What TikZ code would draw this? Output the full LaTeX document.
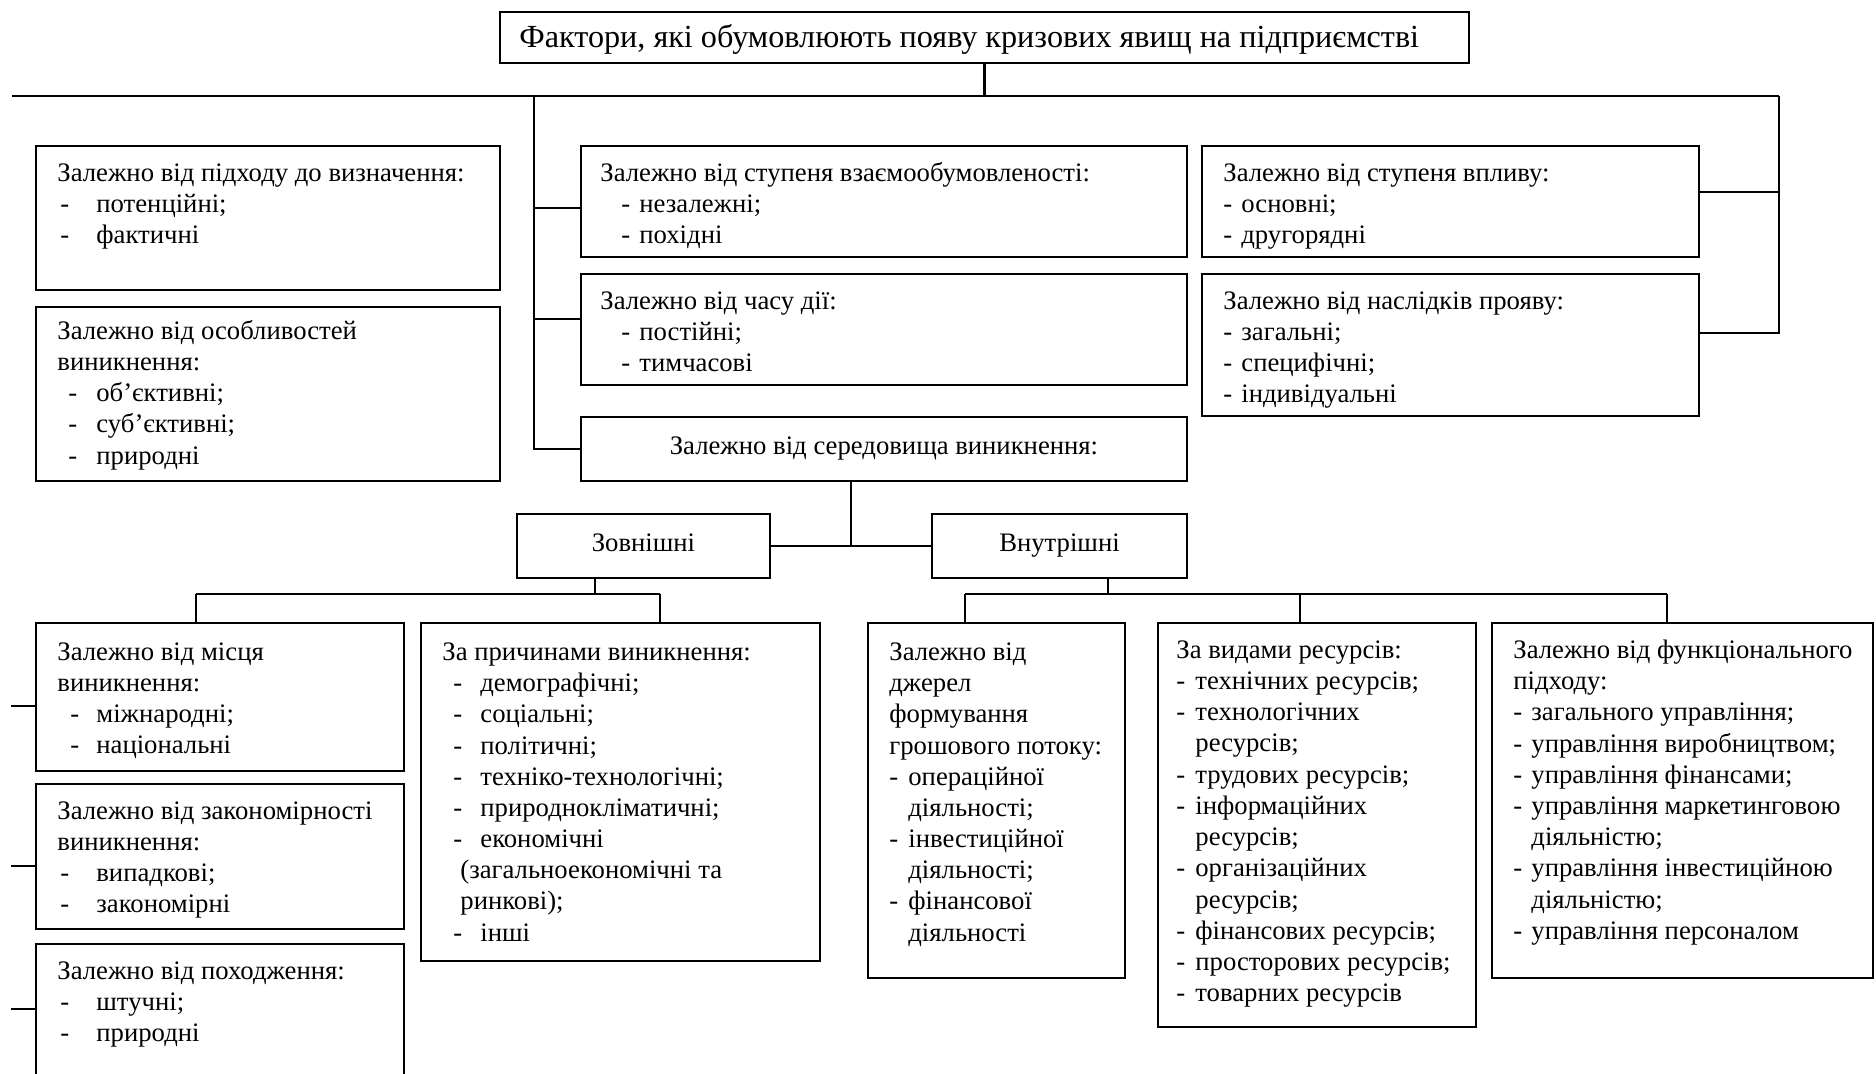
\documentclass[tikz,border=0pt]{standalone}
\usepackage{fontspec}
\setmainfont{Liberation Serif}
\usetikzlibrary{fit,calc}
\newcommand{\mydash}[2]{\hspace*{#1}\makebox[#2][l]{-}}
\newcommand{\tst}{\rule{0pt}{12pt}}
\begin{document}
\begin{tikzpicture}[x=0.5pt,y=-0.5pt,
  box/.style={draw, line width=1.1pt, inner sep=0pt},
  txt/.style={anchor=north west, inner sep=0pt, align=left, font=\fontsize{13.35pt}{15.6pt}\selectfont},
  ctxt/.style={inner sep=0pt, text height=9pt, text depth=3pt, font=\fontsize{13.35pt}{15.6pt}\selectfont},
  ln/.style={line width=1.1pt}]
\useasboundingbox (0,0) rectangle (1876,1074);
\clip (0,0) rectangle (1876,1074);

% boxes
\node[box, fit={(500,12) (1469,63)}] (title) {};
\node[box, fit={(36,146) (500,290)}] (L1) {};
\node[box, fit={(36,307) (500,481)}] (L2) {};
\node[box, fit={(581,146) (1187,257)}] (M1) {};
\node[box, fit={(581,274) (1187,385)}] (M2) {};
\node[box, fit={(581,417) (1187,481)}] (M3) {};
\node[box, fit={(1202,146) (1699,257)}] (R1) {};
\node[box, fit={(1202,274) (1699,416)}] (R2) {};
\node[box, fit={(517,514) (770,578)}] (Zov) {};
\node[box, fit={(932,514) (1187,578)}] (Vnu) {};
\node[box, fit={(36,623) (404,771)}] (A) {};
\node[box, fit={(36,784) (404,929)}] (B) {};
\node[box, fit={(36,944) (404,1100)}] (C) {};
\node[box, fit={(421,623) (820,961)}] (D) {};
\node[box, fit={(868,623) (1125,978)}] (E) {};
\node[box, fit={(1158,623) (1476,1027)}] (F) {};
\node[box, fit={(1492,623) (1873,978)}] (G) {};

% texts
\node[inner sep=0pt, anchor=base west, font=\fontsize{16.1pt}{18pt}\selectfont] (titleT) at (519,48) {Фактори, які обумовлюють появу кризових явищ на підприємстві};
\node[txt] (L1T) at (57,157) {\tst Залежно від підходу до визначення:\\ \mydash{1.5pt}{18pt}потенційні;\\ \mydash{1.5pt}{18pt}фактичні};
\node[txt] (L2T) at (57,315) {\tst Залежно від особливостей\\ виникнення:\\ \mydash{5.5pt}{14pt}об’єктивні;\\ \mydash{5.5pt}{14pt}суб’єктивні;\\ \mydash{5.5pt}{14pt}природні};
\node[txt] (M1T) at (600,157) {\tst Залежно від ступеня взаємообумовленості:\\ \mydash{10.5pt}{9pt}незалежні;\\ \mydash{10.5pt}{9pt}похідні};
\node[txt] (M2T) at (600,285) {\tst Залежно від часу дії:\\ \mydash{10.5pt}{9pt}постійні;\\ \mydash{10.5pt}{9pt}тимчасові};
\node[ctxt] (M3T) at (M3.center) {Залежно від середовища виникнення:};
\node[txt] (R1T) at (1223,157) {\tst Залежно від ступеня впливу:\\ \mydash{0pt}{9pt}основні;\\ \mydash{0pt}{9pt}другорядні};
\node[txt] (R2T) at (1223,285) {\tst Залежно від наслідків прояву:\\ \mydash{0pt}{9pt}загальні;\\ \mydash{0pt}{9pt}специфічні;\\ \mydash{0pt}{9pt}індивідуальні};
\node[ctxt] (ZovT) at (Zov.center) {Зовнішні};
\node[ctxt] (VnuT) at (Vnu.center) {Внутрішні};
\node[txt] (AT) at (57,636) {\tst Залежно від місця\\ виникнення:\\ \mydash{6.5pt}{13pt}міжнародні;\\ \mydash{6.5pt}{13pt}національні};
\node[txt] (BT) at (57,795) {\tst Залежно від закономірності\\ виникнення:\\ \mydash{1.5pt}{18pt}випадкові;\\ \mydash{1.5pt}{18pt}закономірні};
\node[txt] (CT) at (57,955) {\tst Залежно від походження:\\ \mydash{1.5pt}{18pt}штучні;\\ \mydash{1.5pt}{18pt}природні};
\node[txt] (DT) at (442,636) {\tst За причинами виникнення:\\ \mydash{5.5pt}{13.5pt}демографічні;\\ \mydash{5.5pt}{13.5pt}соціальні;\\ \mydash{5.5pt}{13.5pt}політичні;\\ \mydash{5.5pt}{13.5pt}техніко-технологічні;\\ \mydash{5.5pt}{13.5pt}природнокліматичні;\\ \mydash{5.5pt}{13.5pt}економічні\\ \hspace*{9pt}(загальноекономічні та\\ \hspace*{9pt}ринкові);\\ \mydash{5.5pt}{13.5pt}інші};
\node[txt] (ET) at (889,636) {\tst Залежно від\\ джерел\\ формування\\ грошового потоку:\\ \mydash{0pt}{9.5pt}операційної\\ \hspace*{9.5pt}діяльності;\\ \mydash{0pt}{9.5pt}інвестиційної\\ \hspace*{9.5pt}діяльності;\\ \mydash{0pt}{9.5pt}фінансової\\ \hspace*{9.5pt}діяльності};
\node[txt] (FT) at (1176,634) {\tst За видами ресурсів:\\ \mydash{0pt}{9.5pt}технічних ресурсів;\\ \mydash{0pt}{9.5pt}технологічних\\ \hspace*{9.5pt}ресурсів;\\ \mydash{0pt}{9.5pt}трудових ресурсів;\\ \mydash{0pt}{9.5pt}інформаційних\\ \hspace*{9.5pt}ресурсів;\\ \mydash{0pt}{9.5pt}організаційних\\ \hspace*{9.5pt}ресурсів;\\ \mydash{0pt}{9.5pt}фінансових ресурсів;\\ \mydash{0pt}{9.5pt}просторових ресурсів;\\ \mydash{0pt}{9.5pt}товарних ресурсів};
\node[txt] (GT) at (1513,634) {\tst Залежно від функціонального\\ підходу:\\ \mydash{0pt}{9pt}загального управління;\\ \mydash{0pt}{9pt}управління виробництвом;\\ \mydash{0pt}{9pt}управління фінансами;\\ \mydash{0pt}{9pt}управління маркетинговою\\ \hspace*{9pt}діяльністю;\\ \mydash{0pt}{9pt}управління інвестиційною\\ \hspace*{9pt}діяльністю;\\ \mydash{0pt}{9pt}управління персоналом};

% connectors
\coordinate (hl) at (12,96);
\coordinate (hr) at (1779,96);
\coordinate (j1) at (534,96);
\draw[ln] (title.south) -- (title.south |- hl);
\draw[ln] (hl) -- (hr);
\coordinate (m1c) at ($(M1.north west)+(0,63)$);
\coordinate (m2c) at ($(M2.north west)+(0,46)$);
\draw[ln] (j1) |- (M3.west);
\draw[ln] (m1c) -- (j1 |- m1c);
\draw[ln] (m2c) -- (j1 |- m2c);
\coordinate (r1c) at ($(R1.north east)+(0,47)$);
\coordinate (r2c) at ($(R2.north east)+(0,60)$);
\draw[ln] (hr) |- (r2c);
\draw[ln] (r1c) -- (hr |- r1c);
\coordinate (e1) at ($(M3.south west)+(271,0)$);
\draw[ln] (e1) -- (e1 |- Zov.east);
\draw[ln] (Zov.east) -- (Vnu.west);
\coordinate (z1) at ($(Zov.south west)+(79,0)$);
\coordinate (zl) at (196,594);
\coordinate (zr) at (660,594);
\draw[ln] (z1) -- (z1 |- zl);
\draw[ln] (zl) -- (zr);
\draw[ln] (zl) -- (zl |- A.north);
\draw[ln] (zr) -- (zr |- D.north);
\coordinate (v1) at ($(Vnu.south west)+(177,0)$);
\coordinate (vl) at (965,594);
\coordinate (vm) at (1300,594);
\coordinate (vr) at (1667,594);
\draw[ln] (v1) -- (v1 |- vl);
\draw[ln] (vl) -- (vr);
\draw[ln] (vl) -- (vl |- E.north);
\draw[ln] (vm) -- (vm |- F.north);
\draw[ln] (vr) -- (vr |- G.north);
\coordinate (s1) at (11,706);
\coordinate (s2) at (11,866);
\coordinate (s3) at (11,1009);
\draw[ln] (s1) -- (s1 -| A.west);
\draw[ln] (s2) -- (s2 -| B.west);
\draw[ln] (s3) -- (s3 -| C.west);
\end{tikzpicture}
\end{document}
